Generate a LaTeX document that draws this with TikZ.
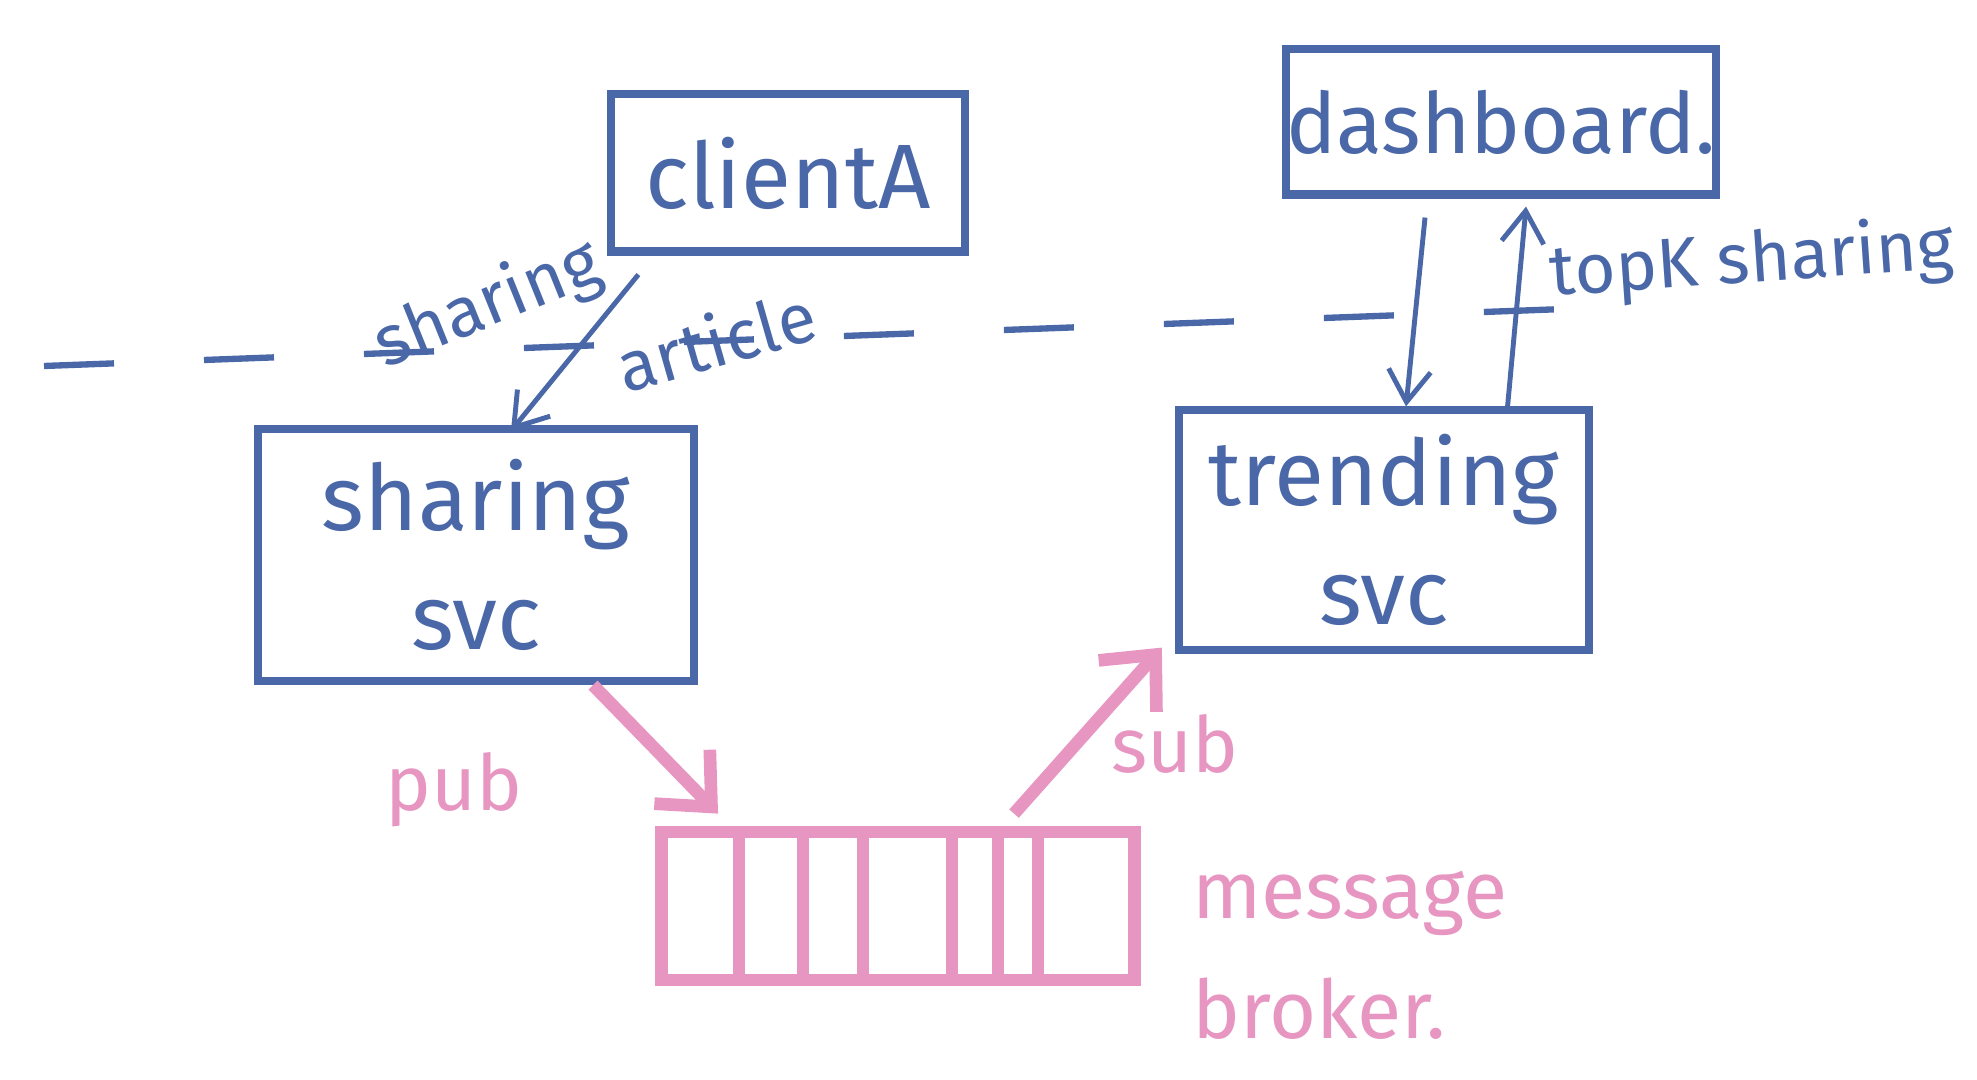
\documentclass[tikz,border=0pt]{standalone}
\usepackage{fontspec}
\setmainfont{Fira Sans}
\usetikzlibrary{arrows.meta,calc}
\definecolor{mk}{HTML}{4A68A8}
\definecolor{pk}{HTML}{E796C2}
\tikzset{
  box/.style={draw=mk, line width=2.3pt, text=mk, align=center, inner sep=0pt,
    font=\fontsize{26}{34}\selectfont},
  lbl/.style={text=mk, inner sep=0pt, font=\fontsize{20}{24}\selectfont},
  plbl/.style={text=pk, inner sep=0pt, font=\fontsize{22}{27}\selectfont},
  blarrow/.style={draw=mk, line width=1.4pt, -{Straight Barb[length=9pt,width=12pt,line width=1.4pt]}},
  pkarrow/.style={draw=pk, line width=3.6pt, -{Straight Barb[length=12pt,width=22pt,line width=3.6pt]}},
  qbox/.style={draw=pk, line width=3.6pt, inner sep=0pt},
  qline/.style={draw=pk, line width=3.6pt},
  divider/.style={draw=mk, line width=1.8pt, dash pattern=on 0.7cm off 0.9cm}
}
\begin{document}
\begin{tikzpicture}[x=0.01cm, y=-0.01cm]
\useasboundingbox (0,0) rectangle (1977,1080);

% dividing line
\coordinate (dl1) at (44,366);
\coordinate (dl2) at (1564,309);
\draw[divider] (dl1) -- (dl2);

% boxes
\node[box, minimum width=3.53cm, minimum height=1.57cm] (client) at (788,173) {clientA};
\node[box, minimum width=4.16cm, minimum height=1.45cm, font=\fontsize{24}{30}\selectfont] (dash) at (1501,122) {dashboard.};
\node[box, minimum width=4.36cm, minimum height=2.52cm] (sharing) at (476,555) {sharing\\svc};
\node[box, minimum width=4.10cm, minimum height=2.39cm] (trend) at (1384,530) {trending\\svc};

% message broker
\node[qbox, minimum width=4.73cm, minimum height=1.48cm] (queue) at (898,906) {};
\foreach \dx in {84,148,208,297,343,383}
  \draw[qline] ($(queue.north west)+(\dx,0)$) -- ($(queue.south west)+(\dx,0)$);
\node[plbl, align=left, font=\fontsize{23}{34}\selectfont] (mb) at (1350,955) {message\\broker.};

% client -> sharing
\draw[blarrow] ($(client.south west)+(31,19)$) -- ($(sharing.north)+(35,6)$);
\node[lbl, rotate=22] (lsh) at (488,306) {sharing};
\node[lbl, rotate=16] (lar) at (716,340) {article};

% dashboard <-> trending
\draw[blarrow] ($(dash.south)+(-76,19)$) -- ($(trend.north)+(22,0)$);
\draw[blarrow] ($(trend.north)+(123,6)$) -- ($(dash.south)+(25,8)$);
\node[lbl, rotate=4] (ltk) at (1752,262) {topK sharing};

% pub / sub
\draw[pkarrow] ($(sharing.south)+(117,0)$) -- ($(queue.north west)+(63,-12)$);
\draw[pkarrow] ($(queue.north west)+(359,-12)$) -- ($(trend.south west)+(-13,-6)$);
\node[plbl] (lpub) at (454,790) {pub};
\node[plbl] (lsub) at (1175,744) {sub};
\end{tikzpicture}
\end{document}
